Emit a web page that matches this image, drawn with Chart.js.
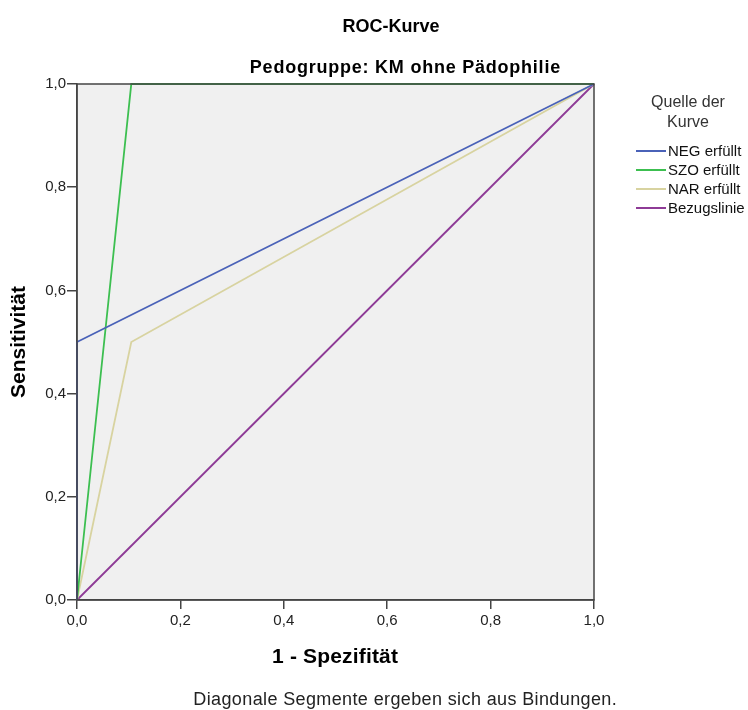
<!DOCTYPE html>
<html>
<head>
<meta charset="utf-8">
<script src="https://cdn.jsdelivr.net/npm/chart.js@4.4.1/dist/chart.umd.min.js"></script>
<style>
    body { margin: 0; background: #fff; }
    #box { width: 748px; height: 710px; position: relative; }
</style>
</head>
<body>
<div id="box"><canvas id="rocChart"></canvas></div>
<script>
// Werte (1 - Spezifität / Sensitivität)
const kurvenNamen = ['NEG erfüllt', 'SZO erfüllt', 'NAR erfüllt', 'Bezugslinie'];
const negX = [0, 0, 1];
const negY = [0, 0.5, 1];
const szoX = [0, 0.105, 1];
const szoY = [0, 1, 1];
const narX = [0, 0.105, 1];
const narY = [0, 0.5, 1];
const refX = [0, 1];
const refY = [0, 1];
const tickWerte = [0, 0.2, 0.4, 0.6, 0.8, 1.0];

const farben = ['#4a62b8', '#3cbf50', '#d8d3a0', '#8e3b96'];

function punkte(xs, ys) {
    let p = [];
    for (let i = 0; i < xs.length; i++) {
        p.push({ x: xs[i], y: ys[i] });
    }
    return p;
}

function komma(v) {
    return v.toFixed(1).replace('.', ',');
}

const schrift = 'Arial, "Liberation Sans", sans-serif';

// Text zentriert auf eine bestimmte Breite bringen (Buchstabenabstand)
function textBreite(ctx, text, x, y, breite) {
    ctx.letterSpacing = '0px';
    const w = ctx.measureText(text).width;
    const extra = (breite - w) / text.length;
    ctx.letterSpacing = extra.toFixed(2) + 'px';
    ctx.fillText(text, x + extra / 2, y);
    ctx.letterSpacing = '0px';
}

// Titel, Achsentitel, Legende und Fußnote
const textPlugin = {
    id: 'texte',
    beforeDraw(chart) {
        const a = chart.chartArea;
        const ctx = chart.ctx;
        ctx.save();
        ctx.fillStyle = '#f0f0f0';
        ctx.fillRect(a.left, a.top, a.right - a.left, a.bottom - a.top);
        ctx.restore();
    },
    afterDraw(chart) {
        const a = chart.chartArea;
        const ctx = chart.ctx;
        ctx.save();
        // Rahmen oben und rechts
        ctx.strokeStyle = '#444';
        ctx.lineWidth = 1.5;
        ctx.strokeRect(a.left, a.top, a.right - a.left, a.bottom - a.top);

        ctx.fillStyle = '#000';
        ctx.textAlign = 'center';
        ctx.textBaseline = 'middle';
        ctx.font = 'bold 18px ' + schrift;
        ctx.fillText('ROC-Kurve', 391, 27);
        ctx.font = 'bold 18px ' + schrift;
        textBreite(ctx, 'Pedogruppe: KM ohne Pädophilie', 405, 68, 311);

        ctx.font = 'bold 21px ' + schrift;
        textBreite(ctx, '1 - Spezifität', 335, 657, 126);
        ctx.save();
        ctx.translate(19, 342);
        ctx.rotate(-Math.PI / 2);
        textBreite(ctx, 'Sensitivität', 0, 0, 112);
        ctx.restore();

        ctx.font = '18px ' + schrift;
        ctx.fillStyle = '#222';
        textBreite(ctx, 'Diagonale Segmente ergeben sich aus Bindungen.', 405, 700, 424);

        // Legende
        ctx.font = '16px ' + schrift;
        ctx.fillStyle = '#333';
        ctx.fillText('Quelle der', 688, 103);
        ctx.fillText('Kurve', 688, 123);
        ctx.font = '15px ' + schrift;
        ctx.textAlign = 'left';
        chart.data.datasets.forEach((ds, i) => {
            const y = 151 + i * 19;
            ctx.strokeStyle = ds.borderColor;
            ctx.lineWidth = 2;
            ctx.beginPath();
            ctx.moveTo(636, y);
            ctx.lineTo(666, y);
            ctx.stroke();
            ctx.fillStyle = '#111';
            ctx.fillText(ds.label, 668, y + 1);
        });
        ctx.restore();
    }
};

const datenSaetze = [
    punkte(negX, negY),
    punkte(szoX, szoY),
    punkte(narX, narY),
    punkte(refX, refY)
];

const configRoc = {
    type: 'scatter',
    data: {
        datasets: datenSaetze.map((d, i) => ({
            label: kurvenNamen[i],
            data: d,
            showLine: true,
            borderColor: farben[i],
            backgroundColor: farben[i],
            borderWidth: 1.8,
            pointRadius: 0,
            tension: 0,
            clip: false
        }))
    },
    options: {
        responsive: false,
        animation: false,
        layout: {
            padding: { left: 27, top: 84, right: 154, bottom: 80 }
        },
        plugins: {
            legend: { display: false },
            tooltip: { enabled: false }
        },
        scales: {
            x: {
                type: 'linear',
                min: 0,
                max: 1,
                afterFit(scale) { scale.height = 30; },
                afterBuildTicks(scale) { scale.ticks = tickWerte.map(v => ({ value: v })); },
                ticks: {
                    callback: v => komma(v),
                    color: '#222',
                    font: { family: schrift, size: 15 },
                    padding: 3,
                    maxRotation: 0
                },
                grid: { drawOnChartArea: false, tickLength: 9, color: '#444', lineWidth: 1.5 },
                border: { display: true, color: '#444', width: 1.5 }
            },
            y: {
                type: 'linear',
                min: 0,
                max: 1,
                afterFit(scale) { scale.width = 50; },
                afterBuildTicks(scale) { scale.ticks = tickWerte.map(v => ({ value: v })); },
                ticks: {
                    callback: v => komma(v),
                    color: '#222',
                    font: { family: schrift, size: 15 },
                    padding: 1
                },
                grid: { drawOnChartArea: false, tickLength: 10, color: '#444', lineWidth: 1.5 },
                border: { display: true, color: '#444', width: 1.5 }
            }
        }
    },
    plugins: [textPlugin]
};

const canvas = document.getElementById('rocChart');
canvas.width = 748;
canvas.height = 710;
let rocChart = new Chart(canvas, configRoc);
</script>
</body>
</html>
